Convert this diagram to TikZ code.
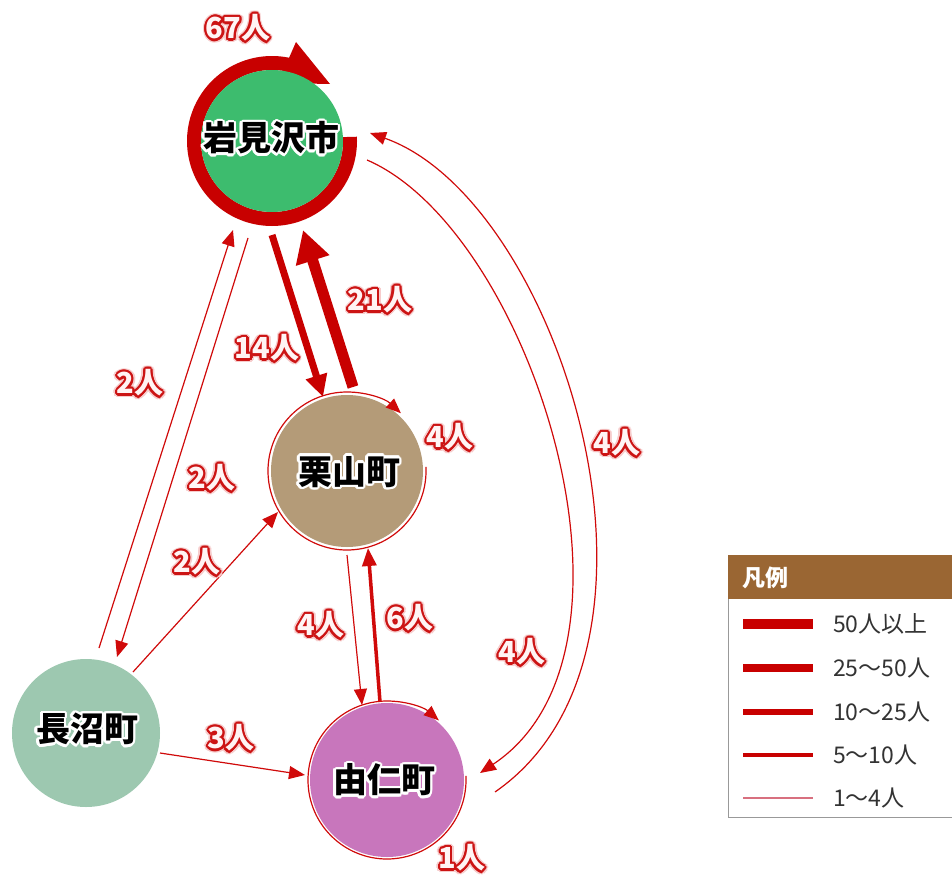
\documentclass[tikz,border=0pt]{standalone}
\usepackage{fontspec}
\setmainfont{Noto Sans CJK JP}
\usetikzlibrary{arrows.meta,calc}
\definecolor{iwagreen}{HTML}{3DBC6E}
\definecolor{kuritan}{HTML}{B49B78}
\definecolor{yunipurple}{HTML}{C876BC}
\definecolor{nagagreen}{HTML}{9DC8B0}
\definecolor{arrowred}{HTML}{D00A0A}
\definecolor{ringred}{HTML}{C80000}
\definecolor{lblred}{HTML}{CC1414}
\definecolor{glowc}{HTML}{F7CCCC}
\definecolor{lblfill}{HTML}{FFF4F4}
\definecolor{legbrown}{HTML}{9A6633}
\definecolor{legthin}{HTML}{D8707F}
\definecolor{legtext}{HTML}{333333}
\newcommand\halolayer[3]{%
  \foreach \ang in {0,22.5,...,337.5}{%
    \pgfmathsetlengthmacro\hdx{#1*cos(\ang)}%
    \pgfmathsetlengthmacro\hdy{#1*sin(\ang)}%
    \rlap{\hspace*{\hdx}\raisebox{\hdy}{\textcolor{#2}{#3}}}%
  }}
\newcommand\lbl[1]{\hbox{\halolayer{3.8pt}{glowc}{#1}\halolayer{2.2pt}{lblred}{#1}\textcolor{lblfill}{#1}}}
\newcommand\cityname[1]{\hbox{\halolayer{2.6pt}{white}{#1}\textcolor{black}{#1}}}
\begin{document}
\begin{tikzpicture}[x=1pt,y=-1pt,
  city/.style={circle,inner sep=0pt,minimum size=#1},
  cityfnt/.style={font=\fontsize{34}{36}\selectfont\bfseries},
  lblnode/.style={inner sep=0pt,font=\fontsize{29}{32}\selectfont\bfseries},
  thinarr/.style={draw=arrowred,line width=1.2pt,-{Triangle[length=16pt,width=13pt]}},
  midarr/.style={draw=arrowred,line width=3.5pt,-{Triangle[length=18pt,width=14pt]}},
  arrfourteen/.style={draw=ringred,line width=7pt,-{Triangle[length=22pt,width=21pt]}},
  arrtwentyone/.style={draw=ringred,line width=11pt,-{Triangle[length=32pt,width=33pt]}},
  legtxt/.style={inner sep=0pt,anchor=west,text=legtext,font=\fontsize{23}{25}\selectfont}
]
\useasboundingbox (0,0) rectangle (952,877);
\fill[white] (0,0) rectangle (952,877);

% Iwamizawa ring (self loop 67)
\coordinate (iwac) at (272,141);
\draw[ringred,line width=14pt] ($(iwac)+(-3:78)$) arc[start angle=-3,end angle=284,radius=78];
\fill[ringred] ($(iwac)+(24,-99)$) -- ($(iwac)+(58,-57)$) -- ($(iwac)+(6,-58)$) -- cycle;

% cities
\node[city=142pt,fill=iwagreen] (iwa) at (iwac) {};
\node[city=152pt,fill=kuritan] (kuri) at (347,471) {};
\node[city=154pt,fill=yunipurple] (yuni) at (387,780) {};
\node[city=148pt,fill=nagagreen] (naga) at (86,733) {};

\node[cityfnt] (iwat) at (271,138) {\cityname{岩見沢市}};
\node[cityfnt] (kurit) at (349,472) {\cityname{栗山町}};
\node[cityfnt] (yunit) at (384,780) {\cityname{由仁町}};
\node[cityfnt] (nagat) at (87,729) {\cityname{長沼町}};

% self loops
\draw[thinarr,-{Triangle[length=15pt,width=12pt]}] ($(kuri)+(-3:79)$) arc[start angle=-3,end angle=313,radius=79];
\draw[thinarr,-{Triangle[length=15pt,width=12pt]}] ($(yuni)+(-3:79)$) arc[start angle=-3,end angle=311,radius=79];

% connectors
\draw[thinarr] ($(naga)+(13,-85)$) -- ($(iwa)+(-39,89)$);
\draw[thinarr] ($(iwa)+(-24,97)$) -- ($(naga)+(31,-76)$);
\draw[thinarr] ($(naga)+(47,-61)$) -- ($(kuri)+(-69,41)$);
\draw[arrfourteen] ($(iwa)+(0,94)$) -- ($(kuri)+(-24,-74)$);
\draw[arrtwentyone] ($(kuri)+(6,-84)$) -- ($(iwa)+(31,89)$);
\draw[thinarr] ($(kuri)+(0,84)$) -- ($(yuni)+(-25,-75)$);
\draw[midarr] ($(yuni)+(-7,-78)$) -- ($(kuri)+(21,77)$);
\draw[thinarr] ($(naga)+(74,20)$) -- ($(yuni)+(-82,-5)$);
\draw[thinarr] ($(iwa)+(95,19)$) .. controls ($(iwa)+(258,89)$) and ($(yuni)+(278,-130)$) .. ($(yuni)+(93,-7)$);
\draw[thinarr] ($(yuni)+(108,12)$) .. controls ($(yuni)+(313,-130)$) and ($(iwa)+(288,59)$) .. ($(iwa)+(98,-8)$);

% labels
\node[lblnode] (l67) at (238,28) {\lbl{67人}};
\node[lblnode] (lna) at (140,383) {\lbl{2人}};
\node[lblnode] (lin) at (212,478) {\lbl{2人}};
\node[lblnode] (lnk) at (197,562) {\lbl{2人}};
\node[lblnode] (l14) at (267,348) {\lbl{14人}};
\node[lblnode] (l21) at (380,300) {\lbl{21人}};
\node[lblnode] (lks) at (450,437) {\lbl{4人}};
\node[lblnode] (lout) at (617,443) {\lbl{4人}};
\node[lblnode] (lky) at (321,625) {\lbl{4人}};
\node[lblnode] (lyk) at (410,618) {\lbl{6人}};
\node[lblnode] (linn) at (522,652) {\lbl{4人}};
\node[lblnode] (l3) at (231,738) {\lbl{3人}};
\node[lblnode] (l1) at (462,858) {\lbl{1人}};

% legend
\draw[draw=gray!80,line width=1pt] (728,555) rectangle (960,817);
\fill[legbrown] (728,555) rectangle (960,599);
\node[inner sep=0pt,anchor=west,text=white,font=\fontsize{23}{25}\selectfont\bfseries] (legt) at (742,578) {凡例};
\foreach \i/\yy/\w/\c/\t in {1/624/10/ringred/50人以上,2/668/8.5/ringred/25～50人,3/712/6.5/ringred/10～25人,4/755/3.5/ringred/5～10人,5/798/1.5/legthin/1～4人}{
  \coordinate (lga\i) at (743,\yy);
  \coordinate (lgb\i) at (813,\yy);
  \draw[\c,line width=\w pt] (lga\i) -- (lgb\i);
  \node[legtxt] (lgt\i) at (833,\yy) {\t};
}
\end{tikzpicture}
\end{document}
